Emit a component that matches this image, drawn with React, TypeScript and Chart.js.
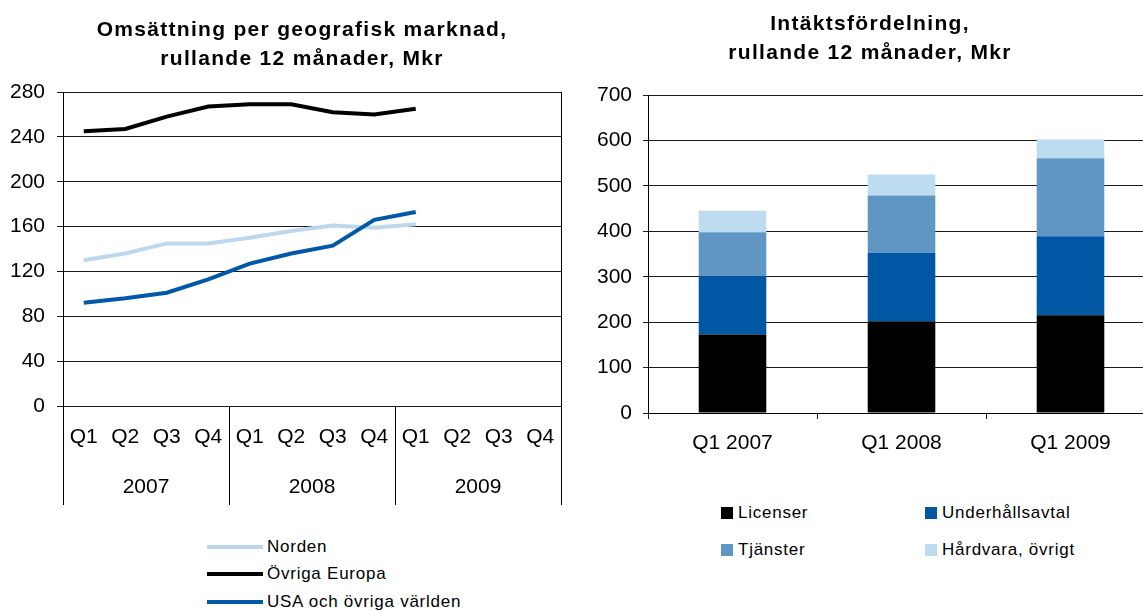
import React, { useEffect, useRef } from 'react';
import { Chart, registerables } from 'chart.js';

Chart.register(...registerables);

// ---------- data ----------
const quarterLabels = ['Q1', 'Q2', 'Q3', 'Q4', 'Q1', 'Q2', 'Q3', 'Q4', 'Q1', 'Q2', 'Q3', 'Q4'];
const yearLabels = ['2007', '2008', '2009'];
const quartersPerYear = 4;

const lineSeriesNames = ['Norden', 'Övriga Europa', 'USA och övriga världen'];
const nordenValues = [130, 136, 145, 145, 150, 156, 161, 159, 162];
const europaValues = [245, 247, 258, 267, 269, 269, 262, 260, 265];
const usaValues = [92, 96, 101, 113, 127, 136, 143, 166, 173];
const lineColors = ['#BDD8EE', '#000000', '#0058A6'];

const leftAxisMax = 280;
const leftAxisStep = 40;

const barCategories = ['Q1 2007', 'Q1 2008', 'Q1 2009'];
const barSeriesNames = ['Licenser', 'Underhållsavtal', 'Tjänster', 'Hårdvara, övrigt'];
const licenserValues = [173, 202, 215];
const underhallValues = [128, 151, 174];
const tjansterValues = [97, 126, 172];
const hardvaraValues = [47, 46, 41];
const barColors = ['#000000', '#0057A4', '#6096C4', '#BDDCF0'];

const rightAxisMax = 700;
const rightAxisStep = 100;

const leftTitle = ['Omsättning per geografisk marknad,', 'rullande 12 månader, Mkr'];
const rightTitle = ['Intäktsfördelning,', 'rullande 12 månader, Mkr'];

// ---------- styles ----------
const FONT = '"Liberation Sans", Arial, Helvetica, sans-serif';
const tickFont = { family: FONT, size: 21 };
const gridColor = '#1a1a1a';

const yearDividers = {
  id: 'yearDividers',
  afterDraw(chart: any) {
    const { ctx, chartArea, scales } = chart;
    const x = scales.x;
    const x2 = scales.x2;
    ctx.save();
    ctx.strokeStyle = '#000';
    ctx.lineWidth = 1;
    const n = yearLabels.length;
    for (let i = 0; i <= n; i++) {
      const px = Math.round(x.getPixelForValue(i * quartersPerYear - 0.5)) + 0.5;
      const top = i === n ? chartArea.top : chartArea.bottom;
      ctx.beginPath();
      ctx.moveTo(px, top);
      ctx.lineTo(px, x2.bottom);
      ctx.stroke();
    }
    ctx.restore();
  },
};

export default function App() {
  const leftRef = useRef<HTMLCanvasElement | null>(null);
  const rightRef = useRef<HTMLCanvasElement | null>(null);

  useEffect(() => {
    const lineSeries = [nordenValues, europaValues, usaValues];
    const left = new Chart(leftRef.current as HTMLCanvasElement, {
      type: 'line',
      data: {
        labels: quarterLabels,
        datasets: lineSeries.map((vals, i) => ({
          label: lineSeriesNames[i],
          data: vals,
          borderColor: lineColors[i],
          backgroundColor: lineColors[i],
          borderWidth: 4,
          pointRadius: 0,
          tension: 0,
          fill: false,
          order: 3 - i,
        })),
      },
      options: {
        responsive: false,
        animation: false,
        layout: { padding: { top: 92, right: 19, bottom: 15, left: 0 } },
        plugins: { legend: { display: false }, tooltip: { enabled: false }, title: { display: false } },
        scales: {
          x: {
            type: 'category',
            position: 'bottom',
            offset: true,
            weight: 0,
            grid: { display: false, drawTicks: false, tickLength: 0 },
            border: { display: false },
            ticks: { font: tickFont, color: '#000', padding: 19, maxRotation: 0, autoSkip: false },
            afterFit: (s: any) => { s.height = 57; },
          },
          x2: {
            type: 'category',
            labels: yearLabels,
            position: 'bottom',
            offset: true,
            weight: 1,
            grid: { display: false, drawTicks: false, tickLength: 0 },
            border: { display: false },
            ticks: { font: tickFont, color: '#000', padding: 12, maxRotation: 0, autoSkip: false },
            afterFit: (s: any) => { s.height = 42; },
          },
          y: {
            min: 0,
            max: leftAxisMax,
            ticks: { stepSize: leftAxisStep, font: tickFont, color: '#000', padding: 12 },
            grid: { color: gridColor, lineWidth: 1, tickLength: 6 },
            border: { display: true, color: '#000', width: 1 },
            afterFit: (s: any) => { s.width = 63; },
          },
        },
      } as any,
      plugins: [yearDividers],
    });

    const barSeries = [licenserValues, underhallValues, tjansterValues, hardvaraValues];
    const right = new Chart(rightRef.current as HTMLCanvasElement, {
      type: 'bar',
      data: {
        labels: barCategories,
        datasets: barSeries.map((vals, i) => ({
          label: barSeriesNames[i],
          data: vals,
          backgroundColor: barColors[i],
          borderWidth: 0,
          categoryPercentage: 1,
          barPercentage: 0.4,
        })),
      },
      options: {
        responsive: false,
        animation: false,
        layout: { padding: { top: 95, right: 20, bottom: 7, left: 0 } },
        plugins: { legend: { display: false }, tooltip: { enabled: false }, title: { display: false } },
        scales: {
          x: {
            stacked: true,
            grid: { display: true, drawOnChartArea: false, tickLength: 6, color: gridColor, offset: true },
            border: { display: true, color: '#000', width: 1 },
            ticks: { font: tickFont, color: '#000', padding: 12, maxRotation: 0, autoSkip: false },
            afterFit: (s: any) => { s.height = 60; },
          },
          y: {
            stacked: true,
            min: 0,
            max: rightAxisMax,
            ticks: { stepSize: rightAxisStep, font: tickFont, color: '#000', padding: 11 },
            grid: { color: gridColor, lineWidth: 1, tickLength: 5 },
            border: { display: true, color: '#000', width: 1 },
            afterFit: (s: any) => { s.width = 73; },
          },
        },
      } as any,
    });

    return () => {
      left.destroy();
      right.destroy();
    };
  }, []);

  const titleStyle = (left: number, width: number, top: number): React.CSSProperties => ({
    position: 'absolute',
    left,
    width,
    top,
    textAlign: 'center',
    fontFamily: FONT,
    fontWeight: 'bold',
    fontSize: 21,
    lineHeight: '29px',
    letterSpacing: '1.3px',
    color: '#000',
    whiteSpace: 'nowrap',
  });

  const legendText: React.CSSProperties = {
    fontFamily: FONT,
    fontSize: 17,
    letterSpacing: '0.75px',
    color: '#000',
    whiteSpace: 'nowrap',
  };

  const leftLegendRows = [547, 573.5, 601.5];
  const rightLegendPos = [
    { x: 721, y: 513 },
    { x: 925, y: 513 },
    { x: 721, y: 549.5 },
    { x: 925, y: 549.5 },
  ];

  return (
    <div
      style={{
        position: 'fixed',
        left: 0,
        top: 0,
        width: 1143,
        height: 611,
        overflow: 'hidden',
        background: '#fff',
      }}
    >
      <canvas ref={leftRef} width={580} height={520} style={{ position: 'absolute', left: 0, top: 0 }} />
      <canvas ref={rightRef} width={600} height={480} style={{ position: 'absolute', left: 575, top: 0 }} />

      <div style={titleStyle(0, 604, 14)}>
        {leftTitle.map((t, i) => (
          <div key={i}>{t}</div>
        ))}
      </div>
      <div style={titleStyle(570, 600, 8)}>
        {rightTitle.map((t, i) => (
          <div key={i}>{t}</div>
        ))}
      </div>

      {lineSeriesNames.map((name, i) => (
        <div
          key={name}
          style={{
            position: 'absolute',
            left: 207,
            top: leftLegendRows[i] - 10,
            height: 20,
            display: 'flex',
            alignItems: 'center',
          }}
        >
          <div style={{ width: 56, height: 4, background: lineColors[i], marginRight: 4 }} />
          <span style={legendText}>{name}</span>
        </div>
      ))}

      {barSeriesNames.map((name, i) => (
        <div
          key={name}
          style={{
            position: 'absolute',
            left: rightLegendPos[i].x,
            top: rightLegendPos[i].y - 10,
            height: 20,
            display: 'flex',
            alignItems: 'center',
          }}
        >
          <div style={{ width: 12, height: 12, background: barColors[i], marginRight: 5 }} />
          <span style={legendText}>{name}</span>
        </div>
      ))}
    </div>
  );
}
